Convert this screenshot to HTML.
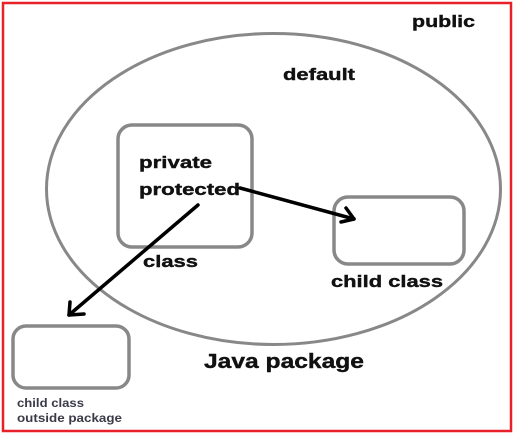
<!DOCTYPE html>
<html><head><style>
html,body{margin:0;padding:0;background:#fff;}
svg{display:block;}
text{font-family:"Liberation Sans",Arial,sans-serif;font-weight:bold;fill:#111;stroke:#111;stroke-width:0.4;}
</style></head><body>
<svg width="515" height="434" viewBox="0 0 515 434" xmlns="http://www.w3.org/2000/svg">
<rect x="0" y="0" width="515" height="434" fill="#fff"/>
<rect x="3" y="3" width="508" height="428" fill="none" stroke="#e8202a" stroke-width="2.5"/>
<ellipse cx="273.5" cy="189" rx="227" ry="155.5" fill="none" stroke="#888" stroke-width="3"/>
<rect x="118" y="125" width="134" height="122" rx="14" fill="#fff" stroke="#888" stroke-width="3.5"/>
<rect x="334" y="197" width="130" height="67" rx="14" fill="none" stroke="#888" stroke-width="3.5"/>
<rect x="13" y="326" width="116" height="62" rx="13" fill="#fff" stroke="#888" stroke-width="3.5"/>
<text x="412" y="27" font-size="17" textLength="63" lengthAdjust="spacingAndGlyphs">public</text>
<text x="283" y="80" font-size="17" textLength="72" lengthAdjust="spacingAndGlyphs">default</text>
<text x="139" y="168" font-size="17" textLength="73" lengthAdjust="spacingAndGlyphs">private</text>
<text x="139" y="195" font-size="17" textLength="101" lengthAdjust="spacingAndGlyphs">protected</text>
<text x="143" y="267" font-size="17" textLength="55" lengthAdjust="spacingAndGlyphs">class</text>
<text x="331" y="287" font-size="17" textLength="112" lengthAdjust="spacingAndGlyphs">child class</text>
<text x="204" y="368" font-size="20" textLength="160" lengthAdjust="spacingAndGlyphs">Java package</text>
<text x="17" y="407" font-size="11.5" textLength="67" lengthAdjust="spacingAndGlyphs" style="fill:#3a3a48;stroke:none">child class</text>
<text x="17" y="422" font-size="11.5" textLength="105" lengthAdjust="spacingAndGlyphs" style="fill:#3a3a48;stroke:none">outside package</text>
<g stroke="#000" stroke-width="3.5" fill="none" stroke-linecap="round" stroke-linejoin="round">
<path d="M240 188 L354 219"/>
<path d="M346 208 L354 219 L341 222"/>
<path d="M198 205 L69 315"/>
<path d="M70 302 L69 315 L84 314"/>
</g>
</svg>
</body></html>
